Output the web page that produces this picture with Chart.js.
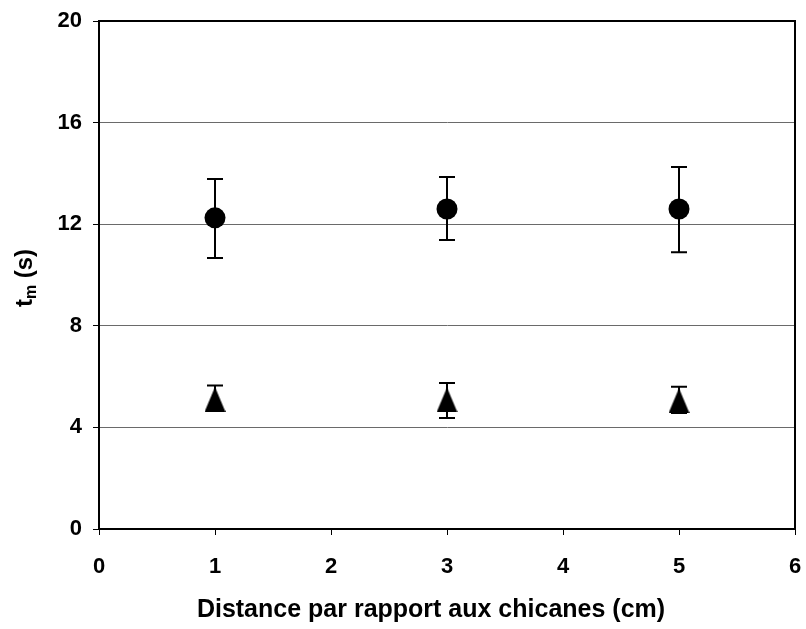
<!DOCTYPE html>
<html>
<head>
<meta charset="utf-8">
<script src="https://cdn.jsdelivr.net/npm/chart.js@4.4.1/dist/chart.umd.min.js"></script>
<style>
  html, body { margin: 0; padding: 0; background: #fff; }
  #wrap { width: 806px; height: 629px; }
</style>
</head>
<body>
<div id="wrap"><canvas id="chart" width="806" height="629"></canvas></div>
<script>
// distances (cm)
const distances = [1, 3, 5];
// mean times (s) and error bounds
const circleMeans = [12.25, 12.6, 12.6];
const circleHigh = [13.78, 13.86, 14.25];
const circleLow = [10.67, 11.38, 10.9];
const triMeans = [5.1, 5.08, 5.05];
const triHigh = [5.65, 5.75, 5.6];
const triLow = [4.65, 4.37, 4.57];
const yTicks = [0, 4, 8, 12, 16, 20];
const xTicks = [0, 1, 2, 3, 4, 5, 6];

const FONT = "'Liberation Sans', Arial, sans-serif";

// triangle marker drawn into a small canvas
function triangleMarker(w, h) {
  const c = document.createElement("canvas");
  c.width = w; c.height = h;
  const g = c.getContext("2d");
  g.fillStyle = "#000";
  g.beginPath();
  g.moveTo(w / 2, 0);
  g.lineTo(w, h);
  g.lineTo(0, h);
  g.closePath();
  g.fill();
  return c;
}

const toPoints = (ys) => distances.map((x, i) => ({ x: x, y: ys[i] }));

const errorBars = {
  id: "errorBars",
  beforeDatasetsDraw(chart) {
    const { ctx, scales: { x, y } } = chart;
    const sets = [[circleHigh, circleLow], [triHigh, triLow]];
    ctx.save();
    ctx.strokeStyle = "#000";
    ctx.lineWidth = 2;
    sets.forEach(([hi, lo]) => {
      distances.forEach((d, i) => {
        const px = Math.round(x.getPixelForValue(d));
        const top = y.getPixelForValue(hi[i]);
        const bot = y.getPixelForValue(lo[i]);
        ctx.beginPath();
        ctx.moveTo(px, top); ctx.lineTo(px, bot);
        ctx.moveTo(px - 8, top); ctx.lineTo(px + 8, top);
        ctx.moveTo(px - 8, bot); ctx.lineTo(px + 8, bot);
        ctx.stroke();
      });
    });
    ctx.restore();
  }
};

const frameAndTitles = {
  id: "frameAndTitles",
  afterDraw(chart) {
    const { ctx, chartArea: a } = chart;
    ctx.save();
    ctx.strokeStyle = "#000";
    ctx.lineWidth = 2;
    ctx.strokeRect(a.left, a.top, a.right - a.left, a.bottom - a.top);

    // x axis title
    ctx.fillStyle = "#000";
    ctx.font = "bold 25px " + FONT;
    ctx.textAlign = "center";
    ctx.textBaseline = "middle";
    ctx.fillText("Distance par rapport aux chicanes (cm)", (a.left + a.right) / 2 - 16, 610);

    // y axis title: t with subscript m
    ctx.translate(23, 278);
    ctx.rotate(-Math.PI / 2);
    ctx.textAlign = "left";
    ctx.textBaseline = "alphabetic";
    const big = "bold 24px " + FONT, small = "bold 16px " + FONT;
    ctx.font = big; const wT = ctx.measureText("t").width;
    ctx.font = small; const wM = ctx.measureText("m").width;
    ctx.font = big; const wS = ctx.measureText(" (s)").width;
    let x0 = -(wT + wM + wS) / 2;
    ctx.font = big; ctx.fillText("t", x0, 9); x0 += wT;
    ctx.font = small; ctx.fillText("m", x0, 13); x0 += wM;
    ctx.font = big; ctx.fillText(" (s)", x0, 9);
    ctx.restore();
  }
};

new Chart(document.getElementById("chart"), {
  type: "scatter",
  data: {
    datasets: [
      {
        label: "circles",
        data: toPoints(circleMeans),
        pointStyle: "circle",
        pointRadius: 10.5,
        backgroundColor: "#000",
        borderColor: "#000",
        borderWidth: 0
      },
      {
        label: "triangles",
        data: toPoints(triMeans),
        pointStyle: triangleMarker(21, 25),
        backgroundColor: "#000"
      }
    ]
  },
  options: {
    responsive: false,
    animation: false,
    events: [],
    layout: { padding: { top: 21, right: 11, left: 0, bottom: 0 } },
    plugins: { legend: { display: false }, tooltip: { enabled: false } },
    scales: {
      x: {
        type: "linear",
        min: 0, max: 6,
        afterFit: (s) => { s.height = 100; s.paddingLeft = 0; s.paddingRight = 0; },
        afterBuildTicks: (s) => { s.ticks = xTicks.map(v => ({ value: v })); },
        grid: { drawOnChartArea: false, drawTicks: true, tickLength: 6, color: "#000", lineWidth: 1 },
        border: { color: "#000", width: 2 },
        ticks: { color: "#000", font: { family: FONT, size: 22, weight: "bold" }, padding: 19 }
      },
      y: {
        type: "linear",
        min: 0, max: 20,
        afterFit: (s) => { s.width = 99; s.paddingTop = 0; s.paddingBottom = 0; },
        afterBuildTicks: (s) => { s.ticks = yTicks.map(v => ({ value: v })); },
        grid: { color: "#6a6a6a", lineWidth: 1, tickLength: 6, tickColor: "#000" },
        border: { color: "#000", width: 2 },
        ticks: { color: "#000", font: { family: FONT, size: 22, weight: "bold" }, padding: 11 }
      }
    }
  },
  plugins: [errorBars, frameAndTitles]
});
</script>
</body>
</html>
